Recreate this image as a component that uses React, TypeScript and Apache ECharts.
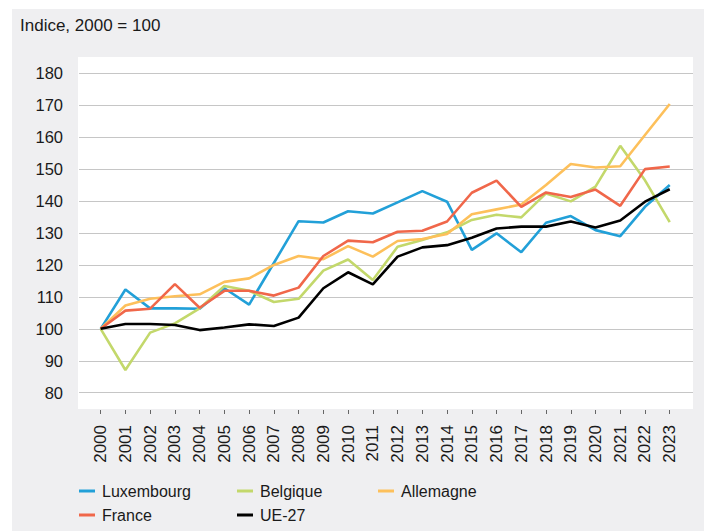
import React, { useEffect, useRef } from "react";
import * as echarts from "echarts";

const years = ["2000","2001","2002","2003","2004","2005","2006","2007","2008","2009","2010","2011","2012","2013","2014","2015","2016","2017","2018","2019","2020","2021","2022","2023"];
const luxembourg = [100,112.3,106.4,106.4,106.3,112.7,107.6,120.6,133.7,133.3,136.8,136.1,139.6,143.1,139.8,124.7,129.9,124.0,133.2,135.3,130.9,129.0,138.2,145.0];
const belgique = [100,87.1,98.8,101.7,106.4,113.4,111.9,108.4,109.4,118.2,121.7,115.3,125.7,127.8,130.2,134.1,135.7,134.9,142.4,139.9,144.5,157.3,146.5,133.4];
const allemagne = [100,107.3,109.4,110.2,110.8,114.7,115.8,120.0,122.8,121.8,125.9,122.6,127.5,128.1,129.7,135.9,137.4,138.9,145.0,151.6,150.5,150.9,160.7,170.4];
const france = [100,105.7,106.3,114.0,106.6,111.9,111.9,110.4,112.9,122.8,127.6,127.1,130.4,130.7,133.6,142.6,146.4,138.2,142.7,141.3,143.6,138.5,150.0,150.8];
const ue27 = [100,101.5,101.5,101.2,99.6,100.4,101.4,100.9,103.5,112.7,117.7,113.9,122.6,125.5,126.2,128.5,131.4,132.0,132.0,133.6,131.7,133.9,139.8,143.7];

const FONT = "'Liberation Sans', Arial, sans-serif";
const TEXT = "#1a1a1a";

const seriesDefs = [
  { name: "Luxembourg", data: luxembourg, color: "#22a0d8" },
  { name: "Belgique", data: belgique, color: "#c3d86b" },
  { name: "Allemagne", data: allemagne, color: "#fdc05b" },
  { name: "France", data: france, color: "#f0674a" },
  { name: "UE-27", data: ue27, color: "#000000" },
];

const legendPos: Record<string, [number, number]> = {
  Luxembourg: [79, 483],
  Belgique: [237, 483],
  Allemagne: [378, 483],
  France: [79, 507],
  "UE-27": [237, 507],
};

export default function App() {
  const ref = useRef<HTMLDivElement>(null);
  useEffect(() => {
    document.body.style.margin = "0";
    const chart = echarts.init(ref.current!, undefined, { renderer: "svg" });
    chart.setOption({
      animation: false,
      backgroundColor: "#ffffff",
      graphic: [
        {
          type: "rect",
          z: -10,
          shape: { x: 12, y: 9, width: 692, height: 522 },
          style: { fill: "#efeff1" },
        },
      ],
      title: {
        text: "Indice, 2000 = 100",
        left: 20,
        top: 17,
        padding: 0,
        textStyle: { fontFamily: FONT, fontSize: 17, fontWeight: "normal", color: TEXT },
      },
      grid: [
        { left: 78, right: 11, top: 57, bottom: 122, show: true, backgroundColor: "#ffffff", borderWidth: 0 },
        { left: 79, right: 11, top: 73.3, bottom: 138.3 },
        { left: 88.3, right: 21.9, top: 73.3, bottom: 138.3 },
      ],
      xAxis: [
        { gridIndex: 0, type: "value", show: false },
        { gridIndex: 1, type: "category", data: years, show: false },
        {
          gridIndex: 2,
          type: "category",
          data: years,
          boundaryGap: true,
          offset: 17.3,
          axisLine: { show: false },
          axisTick: { show: true, length: 4, alignWithLabel: true, lineStyle: { color: "#666666" } },
          axisLabel: { interval: 0, rotate: 90, margin: 15, fontSize: 17, fontFamily: FONT, color: TEXT },
          splitLine: { show: false },
        },
      ],
      yAxis: [
        { gridIndex: 0, type: "value", show: false },
        {
          gridIndex: 1,
          type: "value",
          min: 80,
          max: 180,
          interval: 10,
          axisLine: { show: false },
          axisTick: { show: false },
          axisLabel: { margin: 16, fontSize: 16.5, fontFamily: FONT, color: TEXT },
          splitLine: { show: true, lineStyle: { color: "#c6c6c6", width: 1 } },
        },
        { gridIndex: 2, type: "value", min: 80, max: 180, interval: 10, show: false },
      ],
      legend: seriesDefs.map((s) => ({
        data: [s.name],
        left: legendPos[s.name][0],
        top: legendPos[s.name][1],
        padding: 0,
        icon: "rect",
        itemWidth: 16,
        itemHeight: 3,
        selectedMode: false,
        textStyle: { fontFamily: FONT, fontSize: 16, color: TEXT, padding: [0, 0, 0, 2] },
      })),
      series: seriesDefs.map((s) => ({
        name: s.name,
        type: "line",
        xAxisIndex: 2,
        yAxisIndex: 2,
        data: s.data,
        showSymbol: false,
        symbol: "none",
        color: s.color,
        lineStyle: { color: s.color, width: 2.6 },
      })),
    });
    return () => chart.dispose();
  }, []);
  return <div ref={ref} style={{ width: 704, height: 531 }} />;
}
